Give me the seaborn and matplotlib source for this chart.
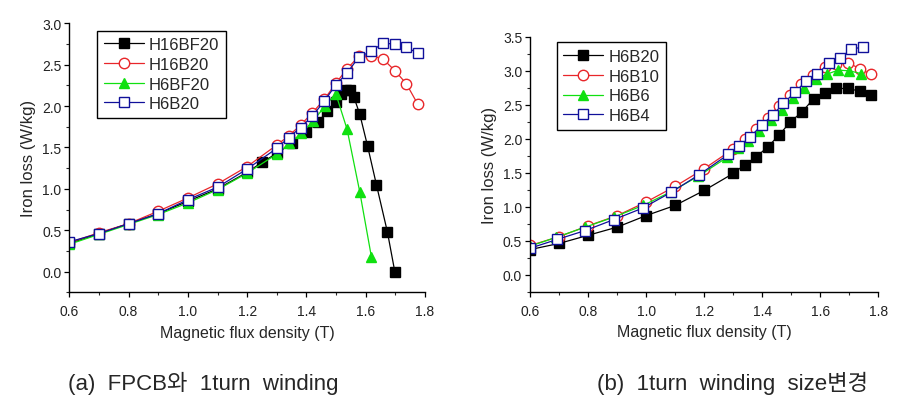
import matplotlib
matplotlib.use("Agg")
import matplotlib.pyplot as plt
from matplotlib.ticker import MultipleLocator
import seaborn as sns

# ---- (a) FPCB vs 1turn winding
a_labels = ["H16BF20", "H16B20", "H6BF20", "H6B20"]
a_x_h16bf20 = [0.6, 0.7, 0.8, 0.9, 1.0, 1.1, 1.2, 1.25, 1.3, 1.35, 1.4, 1.44, 1.47, 1.5,
               1.515, 1.533, 1.548, 1.56, 1.58, 1.606, 1.636, 1.673, 1.698]
a_y_h16bf20 = [0.34, 0.46, 0.58, 0.70, 0.85, 1.00, 1.20, 1.32, 1.43, 1.55, 1.69, 1.81, 1.94, 2.05,
               2.15, 2.19, 2.19, 2.11, 1.90, 1.52, 1.05, 0.48, 0.0]
a_x_h6bf20 = [0.6, 0.7, 0.8, 0.9, 1.0, 1.1, 1.2, 1.3, 1.342, 1.383, 1.423, 1.462, 1.499, 1.537, 1.58, 1.619]
a_y_h6bf20 = [0.33, 0.45, 0.57, 0.69, 0.83, 0.99, 1.19, 1.42, 1.55, 1.67, 1.82, 2.00, 2.15, 1.72, 0.96, 0.18]
a_x_b20 = [0.6, 0.7, 0.8, 0.9, 1.0, 1.1, 1.2, 1.3, 1.34, 1.38, 1.42, 1.46, 1.5, 1.537, 1.576,
           1.617, 1.658, 1.698, 1.737, 1.776]
a_y_h16b20 = [0.35, 0.47, 0.58, 0.73, 0.89, 1.06, 1.27, 1.53, 1.64, 1.77, 1.92, 2.08, 2.28, 2.45, 2.60,
              2.61, 2.57, 2.43, 2.27, 2.02]
a_y_h6b20 = [0.36, 0.46, 0.58, 0.70, 0.87, 1.02, 1.24, 1.49, 1.62, 1.74, 1.88, 2.06, 2.26, 2.40, 2.59,
             2.66, 2.76, 2.75, 2.71, 2.64]

# ---- (b) 1turn winding size change
b_labels = ["H6B20", "H6B10", "H6B6", "H6B4"]
b_x_h6b20 = [0.6, 0.7, 0.8, 0.9, 1.0, 1.1, 1.2, 1.3, 1.34, 1.378, 1.419, 1.459, 1.497, 1.536,
             1.577, 1.617, 1.655, 1.696, 1.736, 1.774]
b_y_h6b20 = [0.37, 0.46, 0.58, 0.70, 0.87, 1.02, 1.24, 1.49, 1.62, 1.73, 1.88, 2.06, 2.25, 2.39,
             2.59, 2.68, 2.74, 2.74, 2.70, 2.65]
b_x_h6b10 = [0.6, 0.7, 0.8, 0.9, 1.0, 1.1, 1.2, 1.3, 1.34, 1.378, 1.419, 1.457, 1.496, 1.534,
             1.575, 1.615, 1.655, 1.696, 1.736, 1.774]
b_y_h6b10 = [0.43, 0.56, 0.72, 0.87, 1.07, 1.30, 1.56, 1.85, 1.99, 2.15, 2.31, 2.48, 2.64, 2.81,
             2.94, 3.05, 3.10, 3.12, 3.03, 2.95]
b_x_h6b6 = [0.6, 0.69, 0.79, 0.89, 0.99, 1.085, 1.18, 1.28, 1.315, 1.35, 1.39, 1.43, 1.468, 1.507,
            1.545, 1.584, 1.623, 1.661, 1.70, 1.74]
b_y_h6b6 = [0.42, 0.55, 0.70, 0.85, 1.02, 1.22, 1.45, 1.73, 1.86, 1.97, 2.11, 2.28, 2.43, 2.60,
            2.75, 2.88, 2.95, 3.01, 3.00, 2.96]
b_x_h6b4 = [0.6, 0.694, 0.79, 0.888, 0.988, 1.085, 1.182, 1.283, 1.32, 1.359, 1.398, 1.436, 1.473,
            1.514, 1.551, 1.59, 1.63, 1.669, 1.707, 1.748]
b_y_h6b4 = [0.39, 0.52, 0.65, 0.81, 0.98, 1.21, 1.47, 1.77, 1.89, 2.03, 2.20, 2.35, 2.52, 2.69,
            2.85, 2.95, 3.12, 3.19, 3.32, 3.35]

sns.set_style("ticks")
plt.rcParams['font.family'] = ['Liberation Sans', 'Noto Sans CJK KR', 'DejaVu Sans']

# colour, marker, face colour for the 4 series (same look in both panels)
styles = [("black", "s", "black"), ("#e8262a", "o", "white"),
          ("#10e010", "^", "#10e010"), ("#10109a", "s", "white")]

fig = plt.figure(figsize=(9.24, 4.02), dpi=100)
ax1 = fig.add_axes([0.075, 0.2704, 0.385, 0.669])
ax2 = fig.add_axes([0.5737, 0.2719, 0.3769, 0.634])

a_series = [(a_x_h16bf20, a_y_h16bf20), (a_x_b20, a_y_h16b20), (a_x_h6bf20, a_y_h6bf20), (a_x_b20, a_y_h6b20)]
b_series = [(b_x_h6b20, b_y_h6b20), (b_x_h6b10, b_y_h6b10), (b_x_h6b6, b_y_h6b6), (b_x_h6b4, b_y_h6b4)]

for ax, series, labels in [(ax1, a_series, a_labels), (ax2, b_series, b_labels)]:
    for (xs, ys), lab, (c, m, fc) in zip(series, labels, styles):
        sns.lineplot(x=xs, y=ys, ax=ax, label=lab, color=c, marker=m, markersize=7.5,
                     markerfacecolor=fc, markeredgecolor=c, markeredgewidth=1.0,
                     linewidth=0.9, sort=False)
    ax.set_xlim(0.6, 1.8)
    ax.xaxis.set_major_locator(MultipleLocator(0.2))
    ax.xaxis.set_minor_locator(MultipleLocator(0.1))
    ax.yaxis.set_major_locator(MultipleLocator(0.5))
    ax.yaxis.set_minor_locator(MultipleLocator(0.25))
    ax.tick_params(which='major', length=3.5, width=0.9, labelsize=10, colors='black', labelcolor='#222222')
    ax.tick_params(which='minor', length=2.2, width=0.8)
    ax.tick_params(axis='x', which='major', pad=5)
    ax.tick_params(axis='y', which='major', pad=2.2)
    ax.set_xlabel("Magnetic flux density (T)", fontsize=11.5, labelpad=5)
    ax.set_ylabel("Iron loss (W/kg)", fontsize=12, labelpad=4)
    for sp in ["left", "bottom"]:
        ax.spines[sp].set_linewidth(1.0)
        ax.spines[sp].set_color("black")
    sns.despine(ax=ax)

ax1.set_ylim(-0.25, 3.0)
ax2.set_ylim(-0.25, 3.5)

leg1 = ax1.legend(loc='upper left', bbox_to_anchor=(0.079, 0.973), borderaxespad=0, fontsize=12,
                  handlelength=2.4, labelspacing=0.28, handletextpad=0.3, borderpad=0.4,
                  fancybox=False, edgecolor='black', framealpha=1)
leg2 = ax2.legend(loc='upper left', bbox_to_anchor=(0.076, 0.978), borderaxespad=0, fontsize=12,
                  handlelength=2.4, labelspacing=0.28, handletextpad=0.3, borderpad=0.4,
                  fancybox=False, edgecolor='black', framealpha=1)
for leg in (leg1, leg2):
    leg.get_frame().set_linewidth(1.0)

fig.text(0.2205, 0.047, "(a)  FPCB와  1turn  winding", fontsize=16, ha='center', va='center')
fig.text(0.7924, 0.047, "(b)  1turn  winding  size변경", fontsize=16, ha='center', va='center')

fig.savefig("out.png", dpi=100)
